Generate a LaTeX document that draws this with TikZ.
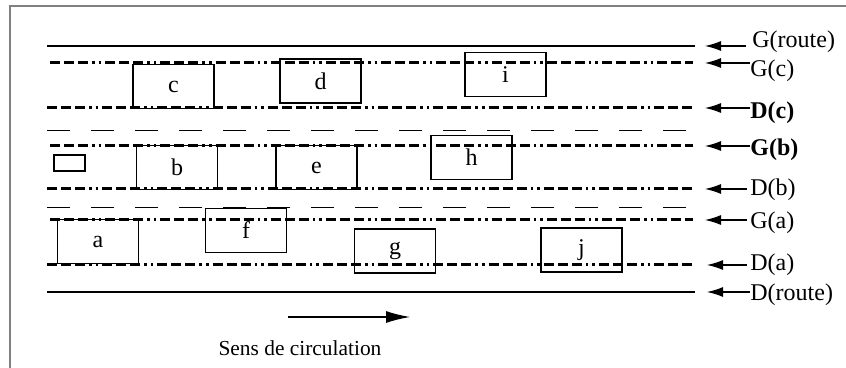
\documentclass[tikz,border=0pt]{standalone}
\usepackage{fontspec}
\setmainfont{Liberation Serif}
\usetikzlibrary{arrows.meta}

\tikzset{
  car/.style={draw, line width=.8pt, minimum width=40.5pt, minimum height=22pt,
    inner sep=0pt, font=\fontsize{12}{14}\selectfont},
  edgeline/.style={line width=.6pt},
  lanemark/.style={line width=1.5pt,
    dash pattern=on 5pt off 2pt on 5pt off 2pt on 5pt off 2pt on 1.3pt off 2pt on 1.3pt off 2pt},
  gapline/.style={line width=.5pt, dash pattern=on 11.5pt off 10.5pt},
  pointer/.style={line width=.6pt, -{Latex[length=8pt,width=5pt]}},
  lanelabel/.style={anchor=west, inner sep=0pt, font=\fontsize{12}{14}\selectfont}
}

\begin{document}
\begin{tikzpicture}[x=0.5pt, y=-0.5pt]

      \useasboundingbox (0,0) rectangle (846,368);
      \draw[gray, line width=1pt] (10,368) -- (10,6) -- (846,6);

      % lane borders
      \draw[edgeline] (47,46)  -- (695,46);
      \draw[lanemark] (50,63)  -- (693,63);
      \draw[lanemark] (47,108) -- (693,108);
      \draw[gapline]  (47,131) -- (690,131);
      \draw[lanemark] (50,146) -- (693,146);
      \draw[lanemark] (47,189) -- (693,189);
      \draw[gapline]  (47,208) -- (690,208);
      \draw[lanemark] (50,220) -- (693,220);
      \draw[lanemark] (47,265) -- (693,265);
      \draw[edgeline] (47,292) -- (695,292);

      % vehicles
      \begin{scope}[every node/.style={car}]
        \node (c) at (173.5,86.5) {c};
        \node (d) at (320.5,81)   {d};
        \node (i) at (505.5,74.5) {i};
        \node (b) at (177,167.5)  {b};
        \node (e) at (316.5,167.5){e};
        \node (h) at (471.5,157.5){h};
        \node (a) at (98,241.5)   {a};
        \node (f) at (246,230.5)  {f};
        \node (g) at (395,251)    {g};
        \node (j) at (581.5,250)  {j};
        \node[minimum width=15.5pt, minimum height=8pt] (moto) at (69.5,163) {};
      \end{scope}

      % labels
      \node[lanelabel] (Groute) at (752,42)  {G(route)};
      \node[lanelabel] (Gc)     at (750,71)  {G(c)};
      \node[lanelabel] (Dc)     at (750,113) {\bfseries D(c)};
      \node[lanelabel] (Gb)     at (750,150) {\bfseries G(b)};
      \node[lanelabel] (Db)     at (750,190) {D(b)};
      \node[lanelabel] (Ga)     at (750,223) {G(a)};
      \node[lanelabel] (Da)     at (750,265) {D(a)};
      \node[lanelabel] (Droute) at (750,295) {D(route)};

      \coordinate (Groute-t) at (705,46);
      \coordinate (Gc-t)     at (705,63);
      \coordinate (Dc-t)     at (705,108);
      \coordinate (Gb-t)     at (705,146);
      \coordinate (Db-t)     at (705,189);
      \coordinate (Ga-t)     at (705,220);
      \coordinate (Da-t)     at (707,265);
      \coordinate (Droute-t) at (707,292);

      \draw[pointer] (Groute.west |- Groute-t) ++(-6,0) -- (Groute-t);
      \draw[pointer] (Gc.west |- Gc-t) -- (Gc-t);
      \draw[pointer] (Dc.west |- Dc-t) -- (Dc-t);
      \draw[pointer] (Gb.west |- Gb-t) -- (Gb-t);
      \draw[pointer] (Db.west |- Db-t) ++(-3,0) -- (Db-t);
      \draw[pointer] (Ga.west |- Ga-t) ++(-3,0) -- (Ga-t);
      \draw[pointer] (Da.west |- Da-t) ++(-3,0) -- (Da-t);
      \draw[pointer] (Droute.west |- Droute-t) -- (Droute-t);

      % direction of traffic
      \coordinate (sens-s) at (288,317);
      \coordinate (sens-e) at (410,317);
      \draw[pointer, -{Latex[length=12pt,width=6pt]}] (sens-s) -- (sens-e);
      \node[font=\fontsize{10.7}{13}\selectfont] (sens) at (300,348) {Sens de circulation};

    \end{tikzpicture}
\end{document}
